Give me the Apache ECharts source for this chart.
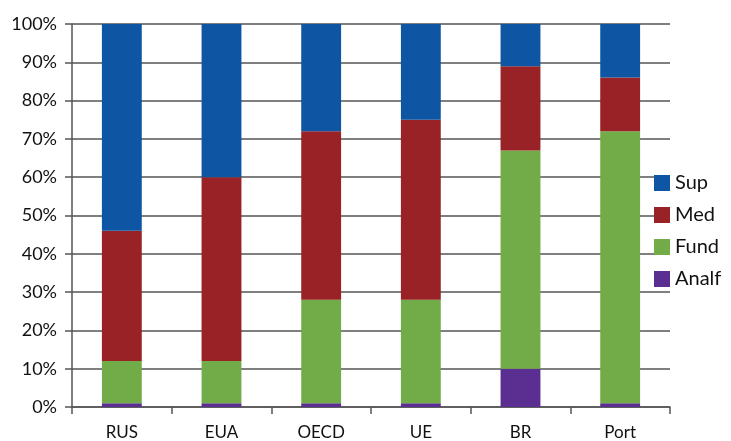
<!DOCTYPE html>
<html>
<head>
<meta charset="utf-8">
<script src="https://cdn.jsdelivr.net/npm/echarts@6/dist/echarts.min.js"></script>
<style>
  html, body { margin: 0; padding: 0; background: #fff; }
  #main { width: 731px; height: 441px; }
</style>
</head>
<body>
<div id="main"></div>
<script>
// data (percent of each group)
var categories = ['RUS', 'EUA', 'OECD', 'UE', 'BR', 'Port']
var analf = [1, 1, 1, 1, 10, 1]
var fund = [11, 11, 27, 27, 57, 71]
var med = [34, 48, 44, 47, 22, 14]
var sup = [54, 40, 28, 25, 11, 14]

var colors = {
    Sup: '#0e56a3',
    Med: '#982226',
    Fund: '#72ac48',
    Analf: '#5a2f91'
}

var myChart = echarts.init(document.getElementById('main'));

function barSeries(name, data) {
    return {
        name: name,
        type: 'bar',
        stack: 'total',
        barWidth: '40%',
        data: data,
        itemStyle: { color: colors[name] }
    }
}

var option = {
    animation: false,
    textStyle: { fontFamily: 'Lato' },
    grid: { left: 72, right: 61, top: 24, bottom: 34 },
    legend: {
        orient: 'vertical',
        left: 654,
        top: 173,
        padding: 0,
        itemWidth: 16,
        itemHeight: 16,
        itemGap: 12,
        icon: 'rect',
        data: ['Sup', 'Med', 'Fund', 'Analf'],
        textStyle: { fontSize: 20, color: '#111', fontFamily: 'Lato', lineHeight: 20 }
    },
    xAxis: {
        type: 'category',
        data: categories,
        axisLine: { lineStyle: { color: '#555', width: 1.5 } },
        axisTick: { show: true, length: 7, lineStyle: { color: '#555', width: 1.5 } },
        axisLabel: { fontSize: 17, color: '#111', margin: 17 }
    },
    yAxis: {
        type: 'value',
        min: 0,
        max: 100,
        interval: 10,
        axisLine: { show: true, lineStyle: { color: '#555', width: 1.5 } },
        axisTick: { show: true, length: 7, lineStyle: { color: '#555', width: 1.5 } },
        axisLabel: { fontSize: 18, color: '#111', margin: 15, formatter: '{value}%' },
        splitLine: { lineStyle: { color: '#555', width: 1.5 } }
    },
    series: [
        barSeries('Analf', analf),
        barSeries('Fund', fund),
        barSeries('Med', med),
        barSeries('Sup', sup)
    ]
};

myChart.setOption(option);
</script>
</body>
</html>
